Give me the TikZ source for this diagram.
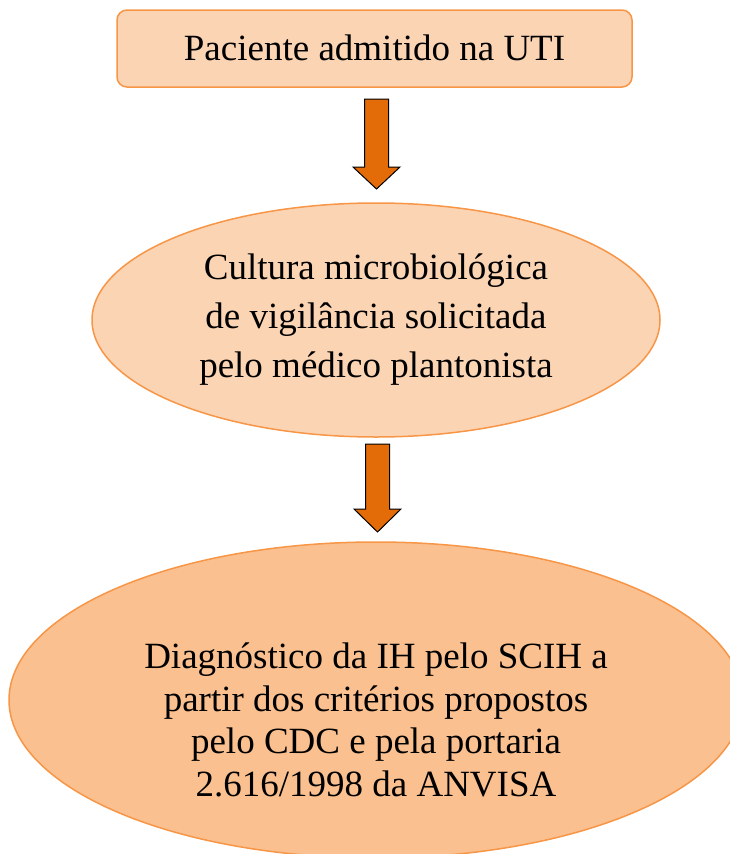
\documentclass[tikz,border=0pt]{standalone}
\usepackage{fontspec}
\setmainfont{Liberation Serif}
\usetikzlibrary{shapes.geometric}
\definecolor{peach}{HTML}{FBD4B4}
\definecolor{peachdark}{HTML}{FAC090}
\definecolor{orangeline}{HTML}{F79646}
\definecolor{arrowfill}{HTML}{E36C09}
\tikzset{
  boxstyle/.style={draw=orangeline, line width=1.5pt, fill=peach, rounded corners=10pt},
  ellstyle/.style={ellipse, draw=orangeline, line width=1.5pt, inner sep=0pt},
  txt/.style={align=center, font=\fontsize{37}{49}\selectfont, inner sep=0pt},
  blockarrow/.style={draw=black, line width=1pt, fill=arrowfill, line join=miter},
}
\begin{document}
\begin{tikzpicture}[x=1pt, y=-1pt]
\useasboundingbox (0,0) rectangle (730,854);
\clip (0,0) rectangle (730,854);
% top box
\node[boxstyle, minimum width=515pt, minimum height=77pt] (box) at (374.5,48.5) {};
\node[txt, anchor=base] (boxt) at (374.5,60) {Paciente admitido na UTI};
% ellipse 2
\node[ellstyle, fill=peach, minimum width=568pt, minimum height=234pt] (ell2) at (376,320) {};
\node[txt, font=\fontsize{37}{49}\selectfont] (ell2t) at (376,320) {Cultura microbiológica\\de vigilância solicitada\\pelo médico plantonista};
% ellipse 3
\node[ellstyle, fill=peachdark, minimum width=734pt, minimum height=316pt] (ell3) at (376,700) {};
\node[txt, font=\fontsize{37}{42.5}\selectfont] (ell3t) at (376,720) {Diagnóstico da IH pelo SCIH a\\partir dos critérios propostos\\pelo CDC e pela portaria\\2.616/1998 da ANVISA};
% block arrows
\draw[blockarrow] (364.5,99) -- (388.5,99) -- (388.5,167) -- (400,167) -- (376.5,189) -- (353,167) -- (364.5,167) -- cycle;
\draw[blockarrow] (365.5,444) -- (389.5,444) -- (389.5,509) -- (401,509) -- (377.5,532) -- (354,509) -- (365.5,509) -- cycle;
\end{tikzpicture}
\end{document}
